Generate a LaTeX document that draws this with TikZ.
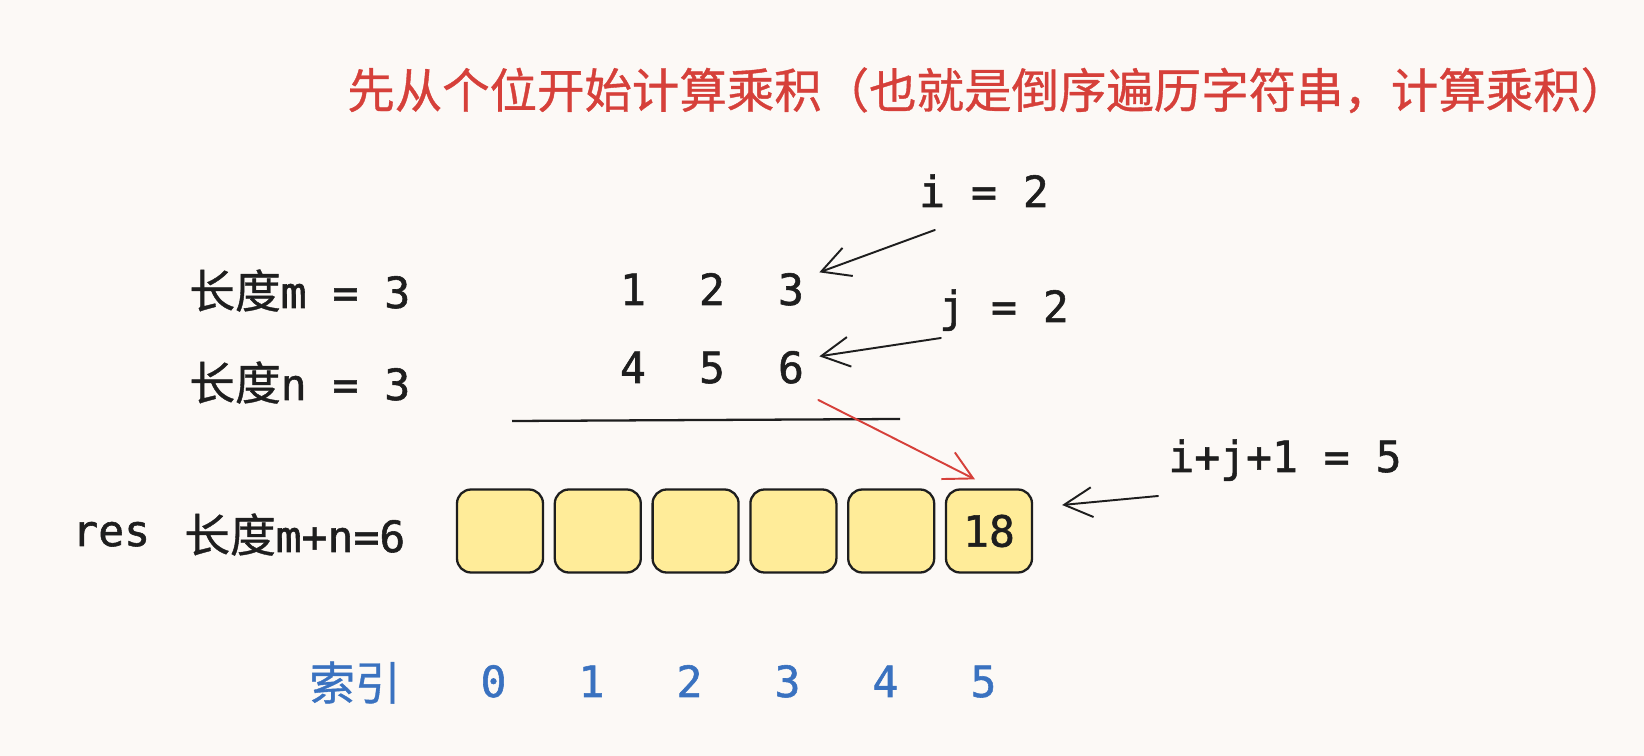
\documentclass[tikz,border=0pt]{standalone}
\usepackage{fontspec}
\setmainfont{DejaVu Sans Mono}[FakeBold=1.3,AutoFakeBold=1.3]
\newfontfamily\cjk{Noto Sans CJK SC}[FakeBold=0.8]
\usetikzlibrary{arrows.meta}
\definecolor{fond}{RGB}{252,249,246}
\definecolor{encre}{RGB}{30,30,30}
\definecolor{rouge}{RGB}{214,64,58}
\definecolor{bleu}{RGB}{58,114,192}
\definecolor{jaune}{RGB}{255,236,153}
\newcommand{\zh}[1]{{\cjk\fontsize{26}{30}\selectfont #1}}

\begin{document}
\begin{tikzpicture}[x=0.02cm,y=-0.02cm]
  \tikzstyle{every node}=[inner sep=0pt,text=encre,font=\fontsize{24.5}{29}\selectfont]
  \tikzstyle{chiffre}=[anchor=base]
  \tikzstyle{etiq}=[anchor=base west]
  \tikzstyle{case}=[draw=encre,fill=jaune,line width=1.3pt,rounded corners=0.28cm,
    minimum width=1.72cm,minimum height=1.66cm]
  \tikzstyle{fleche}=[-{Straight Barb[length=16pt,width=17pt]},line width=1.1pt,
    line cap=round,line join=round]

  \fill[fond] (0,0) rectangle (1644,756);
  \useasboundingbox (0,0) rectangle (1644,756);

  % titre
  \node[etiq,text=rouge] (T) at (347,108)
  {\cjk\fontsize{27}{32}\selectfont 先从个位开始计算乘积（也就是倒序遍历字符串，计算乘积）};

  % longueurs
  \node[etiq] (LM) at (189,308) {\zh{长度}m = 3};
  \node[etiq] (LN) at (189,400) {\zh{长度}n = 3};
  \node[etiq] (RES) at (72,546) {res};
  \node[etiq] (LR) at (184,552) {\zh{长度}m+n=6};

  % les deux nombres
  \foreach \d/\k in {1/1,2/2,3/3}
    \node[chiffre] (M\k) at (554+79*\k,305) {\d};
  \foreach \d/\k in {4/1,5/2,6/3}
    \node[chiffre] (N\k) at (554+79*\k,383) {\d};
  \draw[line width=1.3pt,encre] (512,421) -- (900,419);

  % tableau res
  \foreach \k/\v in {0/{},1/{},2/{},3/{},4/{},5/18}
    \node[case] (R\k) at (500+97.8*\k,531) {\v};

  % indices
  \node[etiq,text=bleu] (IDX) at (309,700) {\zh{索引}};
  \foreach \k in {0,...,5}
    \node[chiffre,text=bleu] (I\k) at (493.5+98*\k,697) {\k};

  % fleches
  \node[chiffre] (IL) at (984,207) {i = 2};
  \node[chiffre] (JL) at (1004,322) {j = 2};
  \node[chiffre] (KL) at (1285,472) {i+j+1 = 5};
  \draw[fleche,encre] ([shift={(16,23)}]IL.base west) -- ([shift={(15,-17)}]M3.east);
  \draw[fleche,encre] ([shift={(2,16)}]JL.base west) -- ([shift={(15,-11)}]N3.east);
  \draw[fleche,rouge] ([shift={(14,16)}]N3.south east) -- ([shift={(-14,-9)}]R5.north);
  \draw[fleche,encre] ([shift={(-10,24)}]KL.base west) -- ([shift={(29,-26)}]R5.east);
\end{tikzpicture}
\end{document}
